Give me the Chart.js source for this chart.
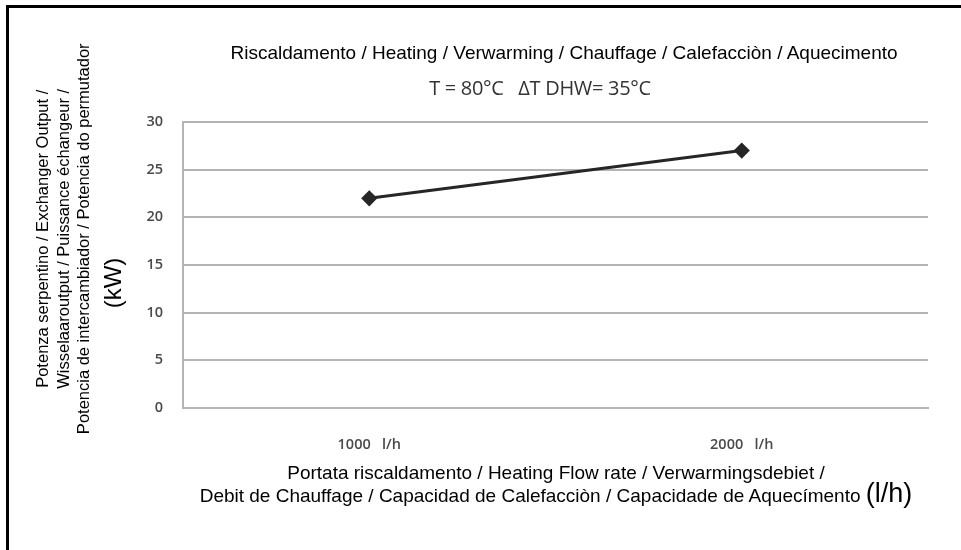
<!DOCTYPE html>
<html>
<head>
<meta charset="utf-8">
<script src="https://cdn.jsdelivr.net/npm/chart.js@4"></script>
<style>
  body { margin: 0; background: #fff; }
  #wrap { position: relative; width: 961px; height: 550px; overflow: hidden; }
  #frame { position: absolute; left: 6px; top: 5px; width: 990px; height: 600px;
           border-top: 3px solid #000; border-left: 3px solid #000; }
  #plot { position: absolute; left: 0; top: 0; width: 961px; height: 550px; filter: blur(0.4px); }
  .txt { position: absolute; font-family: "Liberation Sans", Arial, sans-serif; color: #000;
         white-space: nowrap; line-height: 1; }
  #title { left: 164px; width: 800px; top: 43px; font-size: 19px; text-align: center; }
  #subtitle { left: 340px; width: 400px; top: 78px; font-size: 20px; text-align: center;
              font-family: "Open Sans", sans-serif; color: #333; filter: blur(0.4px); letter-spacing: -0.3px; }
  #xtitle { left: 156px; width: 800px; top: 462px; font-size: 19px; text-align: center; line-height: 21px; }
  #xtitle .unit { font-size: 27px; }
  #ytitle { left: -147px; top: 208px; width: 420px; font-size: 16.5px; line-height: 20.5px;
            text-align: center; transform: rotate(-90deg); }
  #yunit { left: 73px; top: 271px; width: 80px; font-size: 24px; text-align: center;
           transform: rotate(-90deg); }
</style>
</head>
<body>
<div id="wrap">
  <div id="plot"><canvas id="chart"></canvas></div>
  <div id="frame"></div>
  <div class="txt" id="title">Riscaldamento / Heating / Verwarming / Chauffage / Calefacciòn / Aquecimento</div>
  <div class="txt" id="subtitle">T = 80°C &nbsp; ΔT DHW= 35°C</div>
  <div class="txt" id="ytitle">Potenza serpentino / Exchanger Output /<br>Wisselaaroutput / Puissance échangeur /<br>Potencia de intercambiador / Potencia do permutador</div>
  <div class="txt" id="yunit">(kW)</div>
  <div class="txt" id="xtitle">Portata riscaldamento / Heating Flow rate / Verwarmingsdebiet /<br>Debit de Chauffage / Capacidad de Calefacciòn / Capacidade de Aquecímento <span class="unit">(l/h)</span></div>
</div>
<script>
// flow rates on the x axis and exchanger output in kW
const flowRates = ['1000   l/h', '2000   l/h'];
const outputKw = [22, 27];
const yMin = 0;
const yMax = 30;
const yStep = 5;

const tickFont = { family: 'Open Sans', size: 14.5, weight: '600' };
const tickColor = '#4a4a4a';
const gridColor = '#b4b4b4';

function makeChart() {
  const ctx = document.getElementById('chart');
  return new Chart(ctx, {
    type: 'line',
    data: {
      labels: flowRates,
      datasets: [{
        data: outputKw,
        borderColor: '#262626',
        backgroundColor: '#262626',
        borderWidth: 3,
        pointStyle: 'rectRot',
        pointRadius: 6,
        pointHoverRadius: 6,
        tension: 0
      }]
    },
    options: {
      responsive: true,
      maintainAspectRatio: false,
      animation: false,
      layout: { padding: { top: 122, right: 33, left: 0, bottom: 0 } },
      plugins: { legend: { display: false }, tooltip: { enabled: false } },
      scales: {
        x: {
          offset: true,
          grid: { display: false },
          border: { display: true, color: gridColor, width: 2 },
          ticks: { color: tickColor, font: tickFont, padding: 20 },
          afterFit: (scale) => { scale.height = 142; }
        },
        y: {
          min: yMin,
          max: yMax,
          grid: { color: gridColor, lineWidth: 2, drawTicks: false },
          border: { display: true, color: gridColor, width: 2 },
          ticks: { stepSize: yStep, color: tickColor, font: tickFont, padding: 20 },
          afterFit: (scale) => { scale.width = 183; }
        }
      }
    }
  });
}

document.addEventListener('DOMContentLoaded', () => makeChart());
</script>
</body>
</html>
